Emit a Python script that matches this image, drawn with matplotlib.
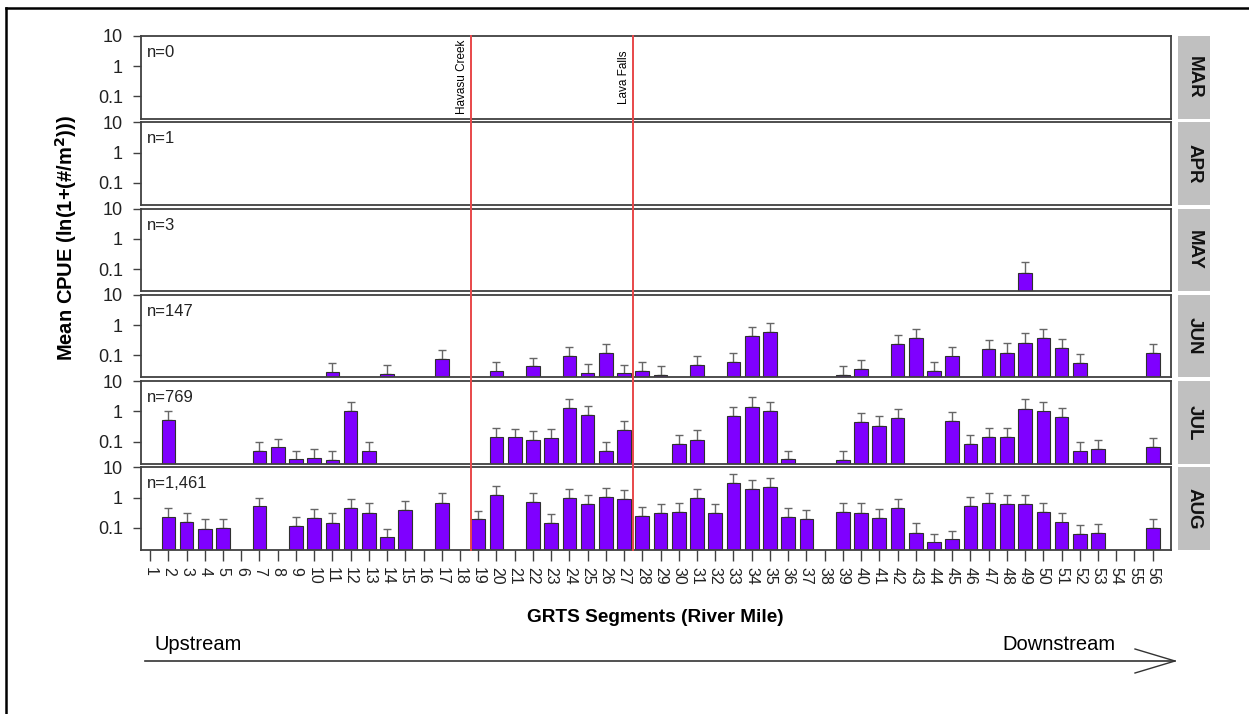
import matplotlib
matplotlib.use("Agg")
import matplotlib.pyplot as plt
import matplotlib.patches as mpatches
from matplotlib.lines import Line2D
from matplotlib.transforms import blended_transform_factory
import numpy as np

plt.rcParams['font.family'] = ['Liberation Sans', 'DejaVu Sans']

# GRTS segments (river mile) along the x axis
segments = list(range(1, 57))

months = ["MAR", "APR", "MAY", "JUN", "JUL", "AUG"]
n_labels = ["n=0", "n=1", "n=3", "n=147", "n=769", "n=1,461"]

# mean CPUE and upper end of the error bar, per month
mar_seg, mar_mean, mar_upper = [], [], []
apr_seg, apr_mean, apr_upper = [], [], []

may_seg = [49]
may_mean = [0.075]
may_upper = [0.17]

jun_seg = [11, 14, 17, 20, 22, 24, 25, 26, 27, 28, 29, 31, 33, 34, 35,
           39, 40, 42, 43, 44, 45, 47, 48, 49, 50, 51, 52, 56]
jun_mean = [0.027, 0.024, 0.075, 0.029, 0.043, 0.096, 0.025, 0.12, 0.025, 0.03, 0.022, 0.047, 0.059, 0.42, 0.58,
            0.022, 0.034, 0.23, 0.38, 0.03, 0.091, 0.16, 0.12, 0.26, 0.37, 0.17, 0.055, 0.115]
jun_upper = [0.056, 0.048, 0.155, 0.059, 0.083, 0.19, 0.05, 0.23, 0.049, 0.059, 0.045, 0.095, 0.12, 0.85, 1.18,
             0.045, 0.069, 0.46, 0.77, 0.06, 0.19, 0.33, 0.25, 0.55, 0.75, 0.34, 0.11, 0.23]

jul_seg = [2, 7, 8, 9, 10, 11, 12, 13, 20, 21, 22, 23, 24, 25, 26, 27, 30, 31,
           33, 34, 35, 36, 39, 40, 41, 42, 45, 46, 47, 48, 49, 50, 51, 52, 53, 56]
jul_mean = [0.51, 0.049, 0.063, 0.025, 0.027, 0.024, 1.04, 0.047, 0.136, 0.136, 0.114, 0.126, 1.31, 0.75,
            0.048, 0.235, 0.083, 0.114, 0.71, 1.44, 1.04, 0.026, 0.024, 0.45, 0.34, 0.61, 0.49, 0.082,
            0.14, 0.14, 1.24, 0.99, 0.65, 0.047, 0.057, 0.067]
jul_upper = [1.0, 0.10, 0.126, 0.05, 0.056, 0.049, 2.05, 0.095, 0.28, 0.27, 0.23, 0.26, 2.6, 1.53,
             0.097, 0.48, 0.17, 0.24, 1.44, 2.9, 2.0, 0.05, 0.049, 0.91, 0.69, 1.24, 0.99, 0.16,
             0.285, 0.29, 2.5, 2.07, 1.31, 0.095, 0.117, 0.136]

aug_seg = [2, 3, 4, 5, 7, 9, 10, 11, 12, 13, 14, 15, 17, 19, 20, 22, 23, 24, 25, 26, 27, 28, 29, 30,
           31, 32, 33, 34, 35, 36, 37, 39, 40, 41, 42, 43, 44, 45, 46, 47, 48, 49, 50, 51, 52, 53, 56]
aug_mean = [0.22, 0.16, 0.093, 0.096, 0.51, 0.115, 0.21, 0.145, 0.46, 0.32, 0.048, 0.39, 0.68, 0.19,
            1.24, 0.71, 0.14, 0.97, 0.6, 1.07, 0.87, 0.25, 0.32, 0.33, 0.94, 0.30, 2.96, 1.87, 2.29,
            0.23, 0.195, 0.34, 0.32, 0.21, 0.44, 0.069, 0.032, 0.041, 0.53, 0.69, 0.6, 0.6, 0.33,
            0.15, 0.061, 0.067, 0.096]
aug_upper = [0.44, 0.32, 0.19, 0.20, 1.0, 0.23, 0.43, 0.30, 0.91, 0.65, 0.095, 0.79, 1.45, 0.37,
             2.5, 1.45, 0.28, 1.92, 1.18, 2.1, 1.78, 0.50, 0.64, 0.67, 1.92, 0.61, 5.9, 3.7, 4.6,
             0.46, 0.40, 0.69, 0.66, 0.43, 0.89, 0.14, 0.064, 0.08, 1.04, 1.45, 1.21, 1.18, 0.67,
             0.30, 0.123, 0.136, 0.19]

month_data = [
    (mar_seg, mar_mean, mar_upper),
    (apr_seg, apr_mean, apr_upper),
    (may_seg, may_mean, may_upper),
    (jun_seg, jun_mean, jun_upper),
    (jul_seg, jul_mean, jul_upper),
    (aug_seg, aug_mean, aug_upper),
]

landmarks = ["Havasu Creek", "Lava Falls"]
landmark_pos = [18.6, 27.5]

bar_color = "#7F00FF"
frame_color = "#404040"
y_low = 0.0186

fig = plt.figure(figsize=(12.49, 7.14), dpi=100)
gs = fig.add_gridspec(6, 1, left=0.1129, right=0.9375, top=0.9496, bottom=0.2297, hspace=0.045)

axes = []
for i, month in enumerate(months):
    ax = fig.add_subplot(gs[i])
    axes.append(ax)
    seg, mean, upper = month_data[i]
    if len(seg) > 0:
        mean = np.array(mean)
        err = np.array(upper) - mean
        ax.bar(seg, mean, width=0.75, bottom=1e-3, color=bar_color,
               edgecolor="#303030", linewidth=0.8, zorder=2)
        ax.errorbar(seg, mean, yerr=[np.zeros_like(err), err], fmt='none',
                    ecolor="#666666", elinewidth=1.0, capsize=3, capthick=1.0, zorder=1)
    ax.set_yscale('log')
    ax.set_ylim(y_low, 10)
    ax.set_xlim(0.5, 57.0)
    ax.set_yticks([0.1, 1, 10])
    ax.set_yticklabels(["0.1", "1", "10"])
    ax.yaxis.set_minor_locator(matplotlib.ticker.NullLocator())
    ax.tick_params(axis='y', length=6, width=1, color=frame_color, labelsize=13, pad=7,
                   labelcolor="#222222")
    for sp in ax.spines.values():
        sp.set_color(frame_color)
        sp.set_linewidth(1.3)
    if i < 5:
        ax.set_xticks([])
    else:
        ax.set_xticks(segments)
        ax.set_xticklabels([str(s) for s in segments], rotation=270, fontsize=11.5, color="#222222")
        ax.tick_params(axis='x', length=8, width=1, color=frame_color, pad=4)
    ax.text(0.006, 0.8, n_labels[i], transform=ax.transAxes, ha='left', va='center', fontsize=12,
            color="#222222")

    # month strip on the right
    strip = mpatches.Rectangle((1.0068, 0.0), 0.031, 1.0, transform=ax.transAxes,
                               facecolor="#c0c0c0", edgecolor='none', clip_on=False)
    ax.add_patch(strip)
    ax.text(1.0223, 0.5, month, transform=ax.transAxes, rotation=270, ha='center', va='center',
            fontsize=13.5, fontweight='bold', color="#111111")

# landmark lines through all panels
top_y = axes[0].get_position().y1
bot_y = axes[-1].get_position().y0
trans = blended_transform_factory(axes[0].transData, fig.transFigure)
for name, pos in zip(landmarks, landmark_pos):
    fig.add_artist(Line2D([pos, pos], [bot_y, top_y], transform=trans, color="#e8474a", lw=1.4))
    axes[0].text(pos - 0.15, 0.5, name, rotation=90, ha='right', va='center', fontsize=8.5,
                 transform=blended_transform_factory(axes[0].transData, axes[0].transAxes))

fig.text(0.053, 1 - 238 / 714, "Mean CPUE (ln(1+(#/m$^\\mathbf{2}$)))", rotation=90, ha='center',
         va='center', fontsize=14.5, fontweight='bold')
fig.text(0.525, 1 - 617 / 714, "GRTS Segments (River Mile)", ha='center', va='center',
         fontsize=13.7, fontweight='bold')

# upstream / downstream arrow
fig.text(155 / 1249, 1 - 645 / 714, "Upstream", ha='left', va='center', fontsize=14.5)
fig.text(1115 / 1249, 1 - 645 / 714, "Downstream", ha='right', va='center', fontsize=14.5)
fig.add_artist(Line2D([145 / 1249, 1175 / 1249], [1 - 661 / 714, 1 - 661 / 714], color="#333333", lw=1.2))
fig.add_artist(Line2D([1135 / 1249, 1175 / 1249, 1135 / 1249],
                      [1 - 649 / 714, 1 - 661 / 714, 1 - 673 / 714], color="#333333", lw=1.0))

# outer frame
fig.add_artist(Line2D([6 / 1249, 1.0], [1 - 8 / 714, 1 - 8 / 714], color="black", lw=1.8))
fig.add_artist(Line2D([6 / 1249, 6 / 1249], [0.0, 1 - 8 / 714], color="black", lw=1.8))

fig.savefig("out.png", dpi=100)
